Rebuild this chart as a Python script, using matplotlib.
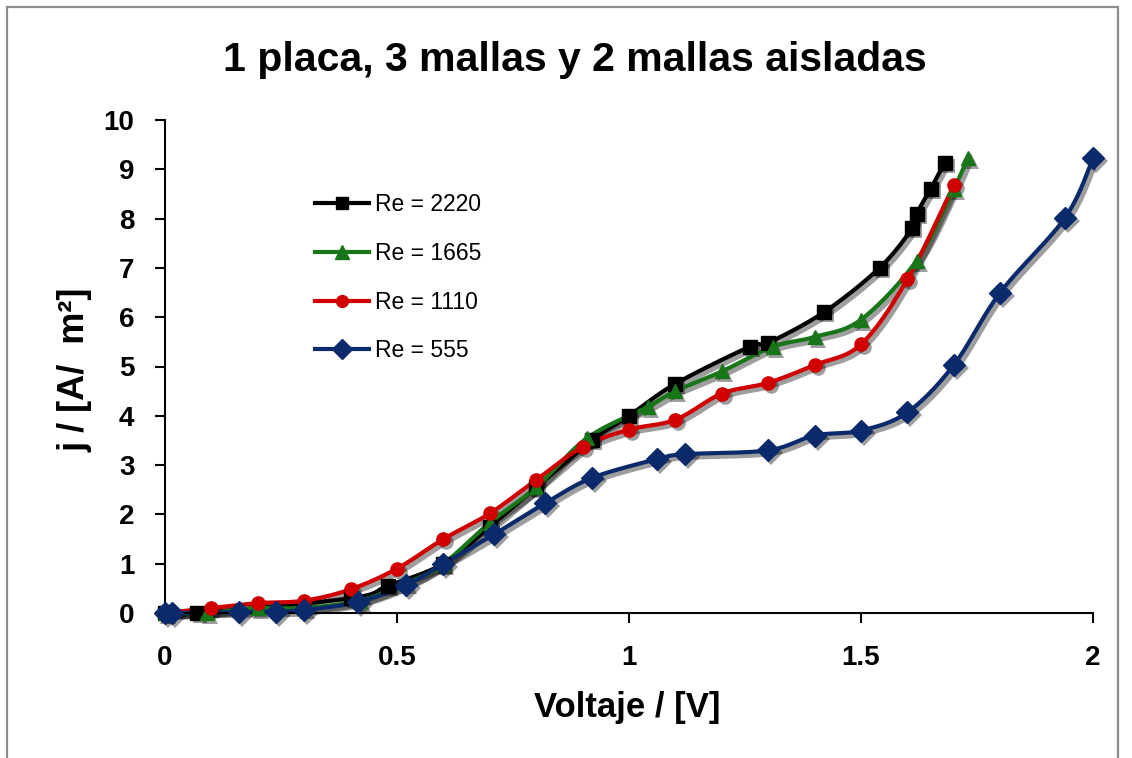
import numpy as np
import matplotlib
matplotlib.use("Agg")
import matplotlib.pyplot as plt
from matplotlib import font_manager
from matplotlib.lines import Line2D
from matplotlib.patches import Rectangle
import matplotlib.transforms as mtransforms

# ---------------- data ----------------
title = "1 placa, 3 mallas y 2 mallas aisladas"
xlabel = "Voltaje / [V]"
ylabel = "j / [A/  m²]"

labels = ["Re = 2220", "Re = 1665", "Re = 1110", "Re = 555"]

v_2220 = [0.0, 0.07, 0.40, 0.48, 0.60, 0.70, 0.80, 0.92, 1.00, 1.10, 1.26, 1.30, 1.42, 1.54, 1.61, 1.62, 1.65, 1.68]
j_2220 = [0.0, 0.0, 0.30, 0.55, 1.00, 1.75, 2.55, 3.50, 4.00, 4.65, 5.40, 5.48, 6.10, 7.00, 7.80, 8.10, 8.60, 9.13]

v_1665 = [0.0, 0.09, 0.20, 0.30, 0.42, 0.52, 0.60, 0.70, 0.80, 0.91, 1.04, 1.10, 1.20, 1.31, 1.40, 1.50, 1.62, 1.70, 1.73]
j_1665 = [0.0, 0.0, 0.10, 0.10, 0.25, 0.60, 1.00, 1.83, 2.55, 3.55, 4.18, 4.50, 4.90, 5.40, 5.60, 5.95, 7.15, 8.60, 9.23]

v_1110 = [0.0, 0.10, 0.20, 0.30, 0.40, 0.50, 0.60, 0.70, 0.80, 0.90, 1.00, 1.10, 1.20, 1.30, 1.40, 1.50, 1.60, 1.70]
j_1110 = [0.0, 0.10, 0.20, 0.25, 0.48, 0.90, 1.50, 2.02, 2.70, 3.37, 3.72, 3.92, 4.45, 4.67, 5.03, 5.45, 6.77, 8.68]

v_555 = [0.0, 0.015, 0.16, 0.24, 0.30, 0.415, 0.52, 0.60, 0.71, 0.82, 0.92, 1.06, 1.12, 1.30, 1.40, 1.50, 1.60, 1.70, 1.80, 1.94, 2.00]
j_555 = [0.0, 0.0, 0.02, 0.03, 0.06, 0.22, 0.57, 1.00, 1.60, 2.23, 2.74, 3.12, 3.22, 3.30, 3.60, 3.70, 4.07, 5.03, 6.50, 8.02, 9.22]

colors = ["#000000", "#187518", "#d10000", "#0b2a6b"]
markers = ["s", "^", "o", "D"]
msizes = [9.5, 10.5, 9.5, 11]

x_ticks = [0, 0.5, 1, 1.5, 2]
x_ticklabels = ["0", "0.5", "1", "1.5", "2"]
y_ticks = list(range(0, 11))

# ---------------- fonts ----------------
names = {f.name for f in font_manager.fontManager.ttflist}
narrow = "Liberation Sans Narrow" if "Liberation Sans Narrow" in names else "Liberation Sans"
plt.rcParams["font.family"] = [narrow, "DejaVu Sans"]


def smooth(x, y, n=20):
    """Excel-like smoothed line (Catmull-Rom Bezier through the data points)."""
    P = np.column_stack([x, y]).astype(float)
    out = [P[0]]
    m = len(P)
    for i in range(m - 1):
        p0 = P[i - 1] if i > 0 else P[i]
        p1 = P[i]
        p2 = P[i + 1]
        p3 = P[i + 2] if i + 2 < m else P[i + 1]
        c1 = p1 + (p2 - p0) / 6.0
        c2 = p2 - (p3 - p1) / 6.0
        t = np.linspace(0, 1, n)[1:, None]
        seg = ((1 - t) ** 3) * p1 + 3 * ((1 - t) ** 2) * t * c1 + 3 * (1 - t) * t ** 2 * c2 + t ** 3 * p2
        out.extend(seg)
    out = np.array(out)
    return out[:, 0], out[:, 1]


fig = plt.figure(figsize=(11.32, 7.58), dpi=100)
ax = fig.add_axes([165 / 1132, 1 - 613 / 758, (1093 - 165) / 1132, (613 - 120) / 758])

# outer frame
fig.patches.append(Rectangle((7 / 1132, -0.05), (1118 - 7) / 1132, (751 / 758) + 0.05,
                             transform=fig.transFigure, fill=False, edgecolor="#8c8c8c",
                             linewidth=1.6, zorder=0))

series = [(v_2220, j_2220), (v_1665, j_1665), (v_1110, j_1110), (v_555, j_555)]
shadow_tr = mtransforms.offset_copy(ax.transData, fig=fig, x=3, y=-3, units="dots")

handles = []
for k, ((vx, jy), c, mk, ms, lab) in enumerate(zip(series, colors, markers, msizes, labels)):
    sx, sy = smooth(vx, jy)
    # shadows
    ax.plot(sx, sy, color="#000000", alpha=0.38, lw=4.0, transform=shadow_tr, zorder=1.5,
            clip_on=False, solid_capstyle="round")
    ax.plot(vx, jy, linestyle="none", marker=mk, markersize=ms + 1, color="#000000", alpha=0.38,
            markeredgewidth=0, transform=shadow_tr, zorder=1.5, clip_on=False)
    # series
    ax.plot(sx, sy, color=c, lw=3.0, solid_capstyle="round", zorder=2 + k * 0.1, clip_on=False)
    ax.plot(vx, jy, linestyle="none", marker=mk, markersize=ms, color=c, markeredgecolor=c,
            zorder=3 + k * 0.1, clip_on=False)
    handles.append(Line2D([], [], color=c, lw=3.0, marker=mk, markersize=ms - 1, markeredgecolor=c))

ax.set_xlim(0, 2)
ax.set_ylim(0, 10)
ax.set_xticks(x_ticks)
ax.set_xticklabels(x_ticklabels)
ax.set_yticks(y_ticks)
for s in ["top", "right"]:
    ax.spines[s].set_visible(False)
for s in ["left", "bottom"]:
    ax.spines[s].set_linewidth(1.5)
ax.tick_params(axis="both", direction="out", length=7, width=1.5)
ax.tick_params(axis="x", pad=16)
ax.tick_params(axis="y", pad=15)
for t in ax.get_xticklabels() + ax.get_yticklabels():
    t.set_fontsize(20)
    t.set_fontweight("bold")

fig.text(575 / 1132, 1 - 60 / 758, title, ha="center", va="center", fontsize=29.5, fontweight="bold")
fig.text(627 / 1132, 1 - 707 / 758, xlabel, ha="center", va="center", fontsize=25, fontweight="bold")
fig.text(75 / 1132, 1 - 370 / 758, ylabel, ha="center", va="center", fontsize=26, fontweight="bold",
         rotation=90)

leg = ax.legend(handles, labels, loc="upper left", bbox_to_anchor=(139 / 928, 1 - 62 / 493),
                frameon=False, fontsize=16.5, handlelength=2.35, handletextpad=0.25,
                labelspacing=1.12, numpoints=1, borderpad=0)

fig.savefig("out.png", dpi=100)
